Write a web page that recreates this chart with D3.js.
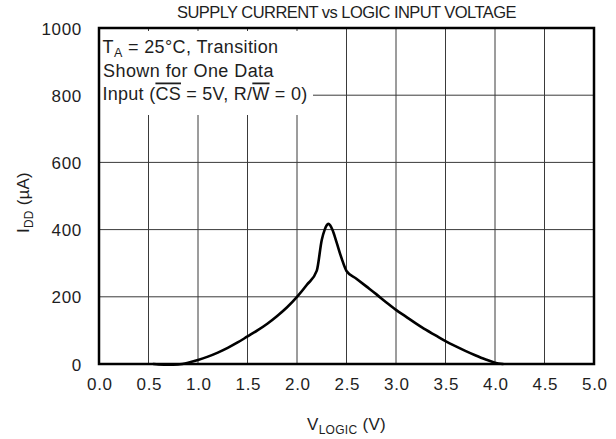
<!DOCTYPE html>
<html>
<head>
<meta charset="utf-8">
<script src="https://cdn.jsdelivr.net/npm/d3@7"></script>
<style>
  html, body { margin: 0; padding: 0; background: #fff; }
  svg { display: block; font-family: "Liberation Sans", Arial, Helvetica, sans-serif; }
</style>
</head>
<body>
<svg id="chart" width="616" height="439"></svg>
<script>
// ---- data ----
const vLogic = [0.55, 0.6, 0.7, 0.8, 0.9, 1.0, 1.1, 1.2, 1.3, 1.4, 1.5, 1.6, 1.7, 1.8, 1.9, 2.0, 2.1, 2.2,
                2.25, 2.28, 2.3, 2.317, 2.335, 2.36, 2.4, 2.45, 2.5,
                2.6, 2.7, 2.8, 2.9, 3.0, 3.1, 3.2, 3.3, 3.4, 3.5, 3.6, 3.7, 3.8, 3.9, 4.0, 4.08];
const iDD    = [0, -1, -2, -1, 4, 12, 22, 34, 48, 64, 82, 100, 120, 143, 169, 200, 236, 278,
                369, 400, 413, 417, 413, 398, 362, 315, 277,
                254, 231, 208, 184, 161, 141, 121, 102, 85, 68, 53, 39, 26, 14, 4, 0];
const xTicks = [0, 0.5, 1, 1.5, 2, 2.5, 3, 3.5, 4, 4.5, 5];
const xTickLabels = ["0.0", "0.5", "1.0", "1.5", "2.0", "2.5", "3.0", "3.5", "4.0", "4.5", "5.0"];
const yTicks = [0, 200, 400, 600, 800, 1000];
const yTickLabels = ["0", "200", "400", "600", "800", "1000"];

const svg = d3.select("#chart");
const L = 99, R = 594, T = 28, B = 364;
const x = d3.scaleLinear().domain([0, 5]).range([L, R]);
const y = d3.scaleLinear().domain([0, 1000]).range([B, T]);
const FONT = "Liberation Sans, Arial, sans-serif";
const INK = "#1e1e1e";

// adjust a text element's letter-spacing so its width matches a target
function fitWidth(sel, target) {
  const node = sel.node();
  const w0 = node.getBBox().width;
  const n = node.textContent.length;
  sel.attr("letter-spacing", ((target - w0) / n).toFixed(3));
}

// gridlines
const grid = svg.append("g").attr("stroke", "#3a3a3a").attr("stroke-width", 1);
grid.selectAll("line.v").data(xTicks.slice(1, -1)).join("line")
  .attr("x1", d => x(d)).attr("x2", d => x(d)).attr("y1", T).attr("y2", B);
grid.selectAll("line.h").data(yTicks.slice(1, -1)).join("line")
  .attr("y1", d => y(d)).attr("y2", d => y(d)).attr("x1", L).attr("x2", R);

// white box behind annotation
svg.append("rect").attr("x", L + 1).attr("y", T + 3).attr("width", 313 - L - 1).attr("height", 115 - T - 3).attr("fill", "#fff");

// frame
svg.append("rect").attr("x", L).attr("y", T).attr("width", R - L).attr("height", B - T)
  .attr("fill", "none").attr("stroke", "#000").attr("stroke-width", 2.5);

// curve
const line = d3.line().x(d => x(d[0])).y(d => y(d[1])).curve(d3.curveMonotoneX);
svg.append("path").datum(vLogic.map((v, i) => [v, iDD[i]]))
  .attr("d", line).attr("fill", "none").attr("stroke", "#000").attr("stroke-width", 2.6)
  .attr("stroke-linejoin", "round").attr("stroke-linecap", "round");

// axes tick labels
const xAxis = d3.axisBottom(x).tickValues(xTicks).tickFormat((d, i) => xTickLabels[i]).tickSize(0).tickPadding(0);
const gx = svg.append("g").attr("transform", `translate(0,${B})`).call(xAxis);
gx.select(".domain").remove();
gx.selectAll("text").attr("y", 25.5).attr("dy", 0).attr("font-size", 17).attr("fill", INK)
  .attr("font-family", FONT).attr("letter-spacing", 0.7).attr("dx", 0.35);

const yAxis = d3.axisLeft(y).tickValues(yTicks).tickFormat((d, i) => yTickLabels[i]).tickSize(0).tickPadding(0);
const gy = svg.append("g").attr("transform", `translate(${L},0)`).call(yAxis);
gy.select(".domain").remove();
gy.selectAll("text").attr("x", -17).attr("dy", "0.36em").attr("font-size", 17).attr("fill", INK)
  .attr("font-family", FONT).attr("letter-spacing", 0.7);

// title
const title = svg.append("text").attr("x", 346.5).attr("y", 18.3).attr("text-anchor", "middle")
  .attr("font-size", 16.5).attr("fill", INK).text("SUPPLY CURRENT vs LOGIC INPUT VOLTAGE");
fitWidth(title, 339);

// x title
const xt = svg.append("text").attr("x", 346.5).attr("y", 430).attr("text-anchor", "middle")
  .attr("font-size", 17).attr("fill", INK);
xt.append("tspan").text("V");
xt.append("tspan").attr("font-size", 12).attr("dy", 4).text("LOGIC");
xt.append("tspan").attr("dy", -4).text(" (V)");
fitWidth(xt, 79);

// y title
const yt = svg.append("text").attr("transform", "translate(28.5,202.5) rotate(-90)").attr("text-anchor", "middle")
  .attr("font-size", 17).attr("fill", INK);
yt.append("tspan").text("I");
yt.append("tspan").attr("font-size", 12).attr("dy", 4).text("DD");
yt.append("tspan").attr("dy", -4).text(" (\u00B5A)");
fitWidth(yt, 61);

// annotation
const ann = svg.append("g").attr("font-size", 18).attr("fill", INK);
const a1 = ann.append("text").attr("x", 102.5).attr("y", 52.5);
a1.append("tspan").text("T");
a1.append("tspan").attr("font-size", 12.5).attr("dy", 4).text("A");
a1.append("tspan").attr("dy", -4).text(" = 25\u00B0C, Transition");
fitWidth(a1, 176);
const a2 = ann.append("text").attr("x", 103).attr("y", 76.5).text("Shown for One Data");
fitWidth(a2, 172);
const a3 = ann.append("text").attr("x", 102.5).attr("y", 99.5);
a3.append("tspan").text("Input (");
a3.append("tspan").style("text-decoration", "overline").text("CS");
a3.append("tspan").text(" = 5V, R/");
a3.append("tspan").style("text-decoration", "overline").text("W");
a3.append("tspan").text(" = 0)");
fitWidth(a3, 205);
</script>
</body>
</html>
